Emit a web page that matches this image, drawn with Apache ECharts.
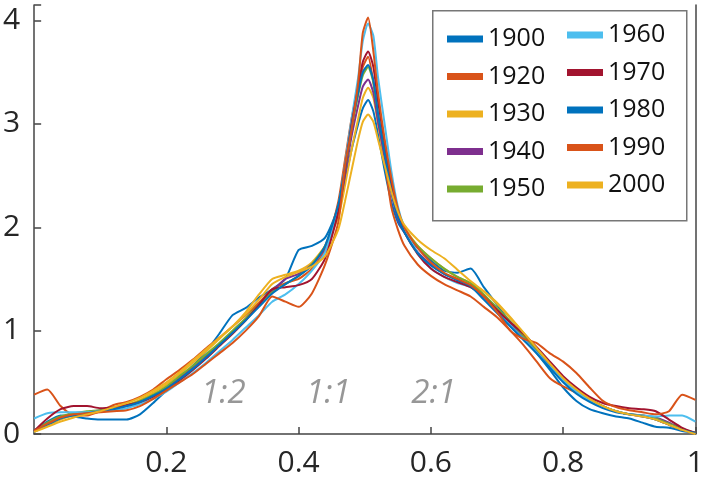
<!DOCTYPE html>
<html>
<head>
<meta charset="utf-8">
<script src="https://cdn.jsdelivr.net/npm/echarts@6/dist/echarts.min.js"></script>
<style>
  html, body { margin: 0; padding: 0; background: #fff; }
  #chart { width: 707px; height: 478px; }
</style>
</head>
<body>
<div id="chart"></div>
<script>
  // x positions shared by every curve (denser around the peak)
  const xs = [0, 0.02, 0.04, 0.06, 0.08, 0.10, 0.12, 0.14, 0.16, 0.18, 0.20, 0.22, 0.24, 0.26, 0.28, 0.30, 0.32, 0.34, 0.36, 0.38, 0.40, 0.42, 0.44,
    0.46, 0.47, 0.48, 0.49, 0.497, 0.505, 0.513, 0.52, 0.53, 0.54, 0.55, 0.56,
    0.58, 0.60, 0.62, 0.64, 0.66, 0.68, 0.70, 0.72, 0.74, 0.76, 0.78, 0.80, 0.82, 0.84, 0.86, 0.88, 0.90, 0.92, 0.94, 0.96, 0.98, 1.00]

  const years = ['1900', '1920', '1930', '1940', '1950', '1960', '1970', '1980', '1990', '2000']
  const colors = ['#0072BD', '#D95319', '#EDB120', '#7E2F8E', '#77AC30', '#4DBEEE', '#A2142F', '#0072BD', '#D95319', '#EDB120']

  const y1900 = [0.03, 0.12, 0.18, 0.17, 0.15, 0.14, 0.14, 0.14, 0.19, 0.30, 0.42, 0.53, 0.66, 0.80, 0.97, 1.15, 1.22, 1.32, 1.40, 1.50, 1.78, 1.82, 1.90,
    2.20, 2.45, 2.75, 3.00, 3.15, 3.23, 3.12, 2.90, 2.55, 2.25, 2.05, 1.95,
    1.80, 1.68, 1.58, 1.56, 1.60, 1.42, 1.25, 1.08, 0.93, 0.78, 0.62, 0.45, 0.32, 0.24, 0.20, 0.17, 0.15, 0.11, 0.07, 0.06, 0.03, 0.01]
  const y1920 = [0.38, 0.43, 0.27, 0.18, 0.18, 0.22, 0.28, 0.31, 0.36, 0.43, 0.53, 0.62, 0.72, 0.83, 0.93, 1.04, 1.15, 1.27, 1.40, 1.46, 1.50, 1.60, 1.78,
    2.25, 2.65, 3.05, 3.35, 3.55, 3.65, 3.40, 3.05, 2.65, 2.20, 1.98, 1.82,
    1.64, 1.53, 1.45, 1.39, 1.33, 1.23, 1.13, 1.00, 0.86, 0.70, 0.54, 0.46, 0.40, 0.33, 0.26, 0.22, 0.19, 0.17, 0.14, 0.09, 0.04, 0.01]
  const y1930 = [0.02, 0.08, 0.14, 0.18, 0.20, 0.22, 0.25, 0.28, 0.33, 0.40, 0.48, 0.58, 0.69, 0.80, 0.92, 1.04, 1.18, 1.35, 1.50, 1.54, 1.58, 1.66, 1.82,
    2.10, 2.40, 2.75, 3.05, 3.25, 3.35, 3.25, 3.00, 2.65, 2.35, 2.12, 2.00,
    1.82, 1.70, 1.60, 1.52, 1.46, 1.38, 1.26, 1.12, 0.98, 0.83, 0.68, 0.54, 0.43, 0.34, 0.27, 0.22, 0.19, 0.18, 0.15, 0.10, 0.05, 0.01]
  const y1940 = [0.03, 0.10, 0.16, 0.19, 0.21, 0.23, 0.25, 0.27, 0.31, 0.37, 0.45, 0.55, 0.65, 0.76, 0.87, 0.99, 1.11, 1.24, 1.38, 1.50, 1.55, 1.64, 1.80,
    2.15, 2.50, 2.88, 3.18, 3.36, 3.43, 3.30, 3.02, 2.68, 2.34, 2.08, 1.95,
    1.76, 1.64, 1.55, 1.49, 1.43, 1.32, 1.19, 1.06, 0.93, 0.80, 0.66, 0.53, 0.42, 0.33, 0.27, 0.22, 0.19, 0.18, 0.16, 0.11, 0.05, 0.01]
  const y1950 = [0.03, 0.11, 0.17, 0.20, 0.22, 0.23, 0.25, 0.28, 0.32, 0.38, 0.46, 0.56, 0.66, 0.77, 0.88, 1.00, 1.12, 1.25, 1.37, 1.45, 1.53, 1.64, 1.82,
    2.20, 2.55, 2.95, 3.28, 3.47, 3.55, 3.40, 3.10, 2.75, 2.40, 2.12, 1.98,
    1.82, 1.70, 1.60, 1.52, 1.46, 1.35, 1.22, 1.09, 0.95, 0.82, 0.68, 0.54, 0.43, 0.34, 0.27, 0.22, 0.19, 0.18, 0.15, 0.10, 0.05, 0.01]
  const y1960 = [0.15, 0.20, 0.21, 0.21, 0.21, 0.22, 0.23, 0.25, 0.29, 0.34, 0.41, 0.50, 0.59, 0.69, 0.80, 0.91, 1.03, 1.15, 1.28, 1.35, 1.45, 1.58, 1.76,
    2.20, 2.60, 3.05, 3.45, 3.80, 3.97, 3.85, 3.45, 3.00, 2.55, 2.20, 2.00,
    1.75, 1.60, 1.52, 1.46, 1.42, 1.32, 1.19, 1.05, 0.92, 0.79, 0.65, 0.52, 0.41, 0.32, 0.26, 0.22, 0.19, 0.18, 0.17, 0.18, 0.18, 0.12]
  const y1970 = [0.03, 0.15, 0.24, 0.27, 0.27, 0.25, 0.26, 0.28, 0.31, 0.36, 0.43, 0.52, 0.62, 0.73, 0.85, 0.97, 1.10, 1.25, 1.40, 1.42, 1.44, 1.50, 1.70,
    2.15, 2.55, 3.00, 3.35, 3.60, 3.70, 3.55, 3.22, 2.82, 2.42, 2.12, 1.95,
    1.74, 1.60, 1.52, 1.47, 1.42, 1.33, 1.20, 1.08, 0.97, 0.84, 0.70, 0.56, 0.45, 0.36, 0.30, 0.27, 0.25, 0.24, 0.22, 0.14, 0.06, 0.01]
  const y1980 = [0.02, 0.09, 0.15, 0.18, 0.20, 0.22, 0.24, 0.27, 0.31, 0.37, 0.44, 0.53, 0.63, 0.74, 0.86, 0.98, 1.10, 1.23, 1.36, 1.45, 1.53, 1.63, 1.82,
    2.22, 2.58, 2.98, 3.30, 3.50, 3.57, 3.42, 3.10, 2.72, 2.36, 2.10, 1.95,
    1.75, 1.63, 1.55, 1.49, 1.43, 1.30, 1.17, 1.04, 0.91, 0.78, 0.64, 0.50, 0.39, 0.31, 0.25, 0.21, 0.19, 0.17, 0.14, 0.09, 0.04, 0.01]
  const y1990 = [0.03, 0.10, 0.16, 0.19, 0.20, 0.21, 0.22, 0.23, 0.27, 0.34, 0.42, 0.50, 0.58, 0.68, 0.78, 0.88, 1.00, 1.14, 1.33, 1.28, 1.23, 1.36, 1.64,
    2.05, 2.59, 2.95, 3.40, 3.88, 4.03, 3.70, 3.30, 2.85, 2.48, 2.18, 2.00,
    1.80, 1.66, 1.56, 1.50, 1.44, 1.33, 1.18, 1.00, 0.92, 0.88, 0.78, 0.70, 0.59, 0.45, 0.32, 0.26, 0.23, 0.21, 0.19, 0.22, 0.38, 0.33]
  const y2000 = [0.02, 0.07, 0.12, 0.16, 0.19, 0.22, 0.26, 0.30, 0.35, 0.42, 0.50, 0.60, 0.71, 0.82, 0.93, 1.04, 1.16, 1.30, 1.45, 1.52, 1.57, 1.62, 1.72,
    1.98, 2.25, 2.55, 2.85, 3.02, 3.09, 3.02, 2.85, 2.60, 2.35, 2.15, 2.02,
    1.88, 1.78, 1.70, 1.59, 1.48, 1.38, 1.27, 1.13, 0.98, 0.83, 0.68, 0.54, 0.43, 0.34, 0.27, 0.22, 0.19, 0.17, 0.14, 0.09, 0.04, 0.00]

  const curves = [y1900, y1920, y1930, y1940, y1950, y1960, y1970, y1980, y1990, y2000]

  // ratio annotations
  const annText = ['1:2', '1:1', '2:1']
  const annX = [0.286, 0.445, 0.604]
  const annY = [0.39, 0.39, 0.39]

  const xTicks = [0.2, 0.4, 0.6, 0.8, 1]

  let chart = echarts.init(document.getElementById('chart'))

  let series = curves.map(function (ys, i) {
    return {
      name: years[i],
      type: 'line',
      data: xs.map((x, j) => [x, ys[j]]),
      showSymbol: false,
      smooth: 0.2,
      lineStyle: {width: 2, color: colors[i]},
      itemStyle: {color: colors[i]},
      z: 2
    }
  })

  series.push({
    type: 'scatter',
    symbolSize: 0,
    silent: true,
    data: annText.map((t, i) => ({name: t, value: [annX[i], annY[i]]})),
    label: {
      show: true,
      position: 'inside',
      formatter: p => p.name,
      fontFamily: 'Open Sans',
      fontStyle: 'italic',
      fontSize: 33,
      color: '#7d7d7d'
    },
    z: 3
  })

  const legendText = {fontFamily: 'Open Sans', fontSize: 25, color: '#111', lineHeight: 28}

  chart.setOption({
    animation: false,
    grid: {left: 33, right: 7, top: 5, bottom: 44, containLabel: false},
    xAxis: {
      type: 'value',
      min: 0,
      max: 1,
      interval: 0.2,
      axisLine: {show: true, lineStyle: {color: '#444', width: 1.5}},
      axisTick: {show: true, inside: true, length: 7, lineStyle: {color: '#444', width: 1.5}},
      axisLabel: {
        showMinLabel: false,
        margin: 14,
        fontFamily: 'Open Sans',
        fontSize: 30,
        color: '#262626',
        formatter: v => xTicks.indexOf(+v.toFixed(1)) >= 0 ? String(+v.toFixed(1)) : ''
      },
      splitLine: {show: false}
    },
    yAxis: [{
      type: 'value',
      min: 0,
      max: 4.15,
      interval: 1,
      axisLine: {show: true, lineStyle: {color: '#444', width: 1.5}},
      axisTick: {show: true, inside: true, length: 7, lineStyle: {color: '#444', width: 1.5}},
      axisLabel: {
        margin: 14,
        fontFamily: 'Open Sans',
        fontSize: 30,
        color: '#262626',
        formatter: v => Number.isInteger(v) ? String(v) : ''
      },
      splitLine: {show: false}
    }, {
      type: 'value',
      position: 'right',
      min: 0,
      max: 4.15,
      axisLine: {show: true, lineStyle: {color: '#444', width: 1.5}},
      axisTick: {show: false},
      axisLabel: {show: false},
      splitLine: {show: false}
    }],
    legend: [{
      data: years.slice(0, 5),
      orient: 'vertical',
      left: 447,
      top: 25,
      padding: 0,
      icon: 'rect',
      itemWidth: 36,
      itemHeight: 7,
      itemGap: 9.5,
      textStyle: legendText,
      z: 20
    }, {
      data: years.slice(5),
      orient: 'vertical',
      left: 567,
      top: 21,
      padding: 0,
      icon: 'rect',
      itemWidth: 36,
      itemHeight: 7,
      itemGap: 9.5,
      textStyle: legendText,
      z: 20
    }],
    graphic: [{
      type: 'rect',
      left: 432,
      top: 10,
      z: 10,
      shape: {width: 254, height: 210},
      style: {fill: '#fff', stroke: '#777', lineWidth: 1.5}
    }],
    series: series
  })
</script>
</body>
</html>
